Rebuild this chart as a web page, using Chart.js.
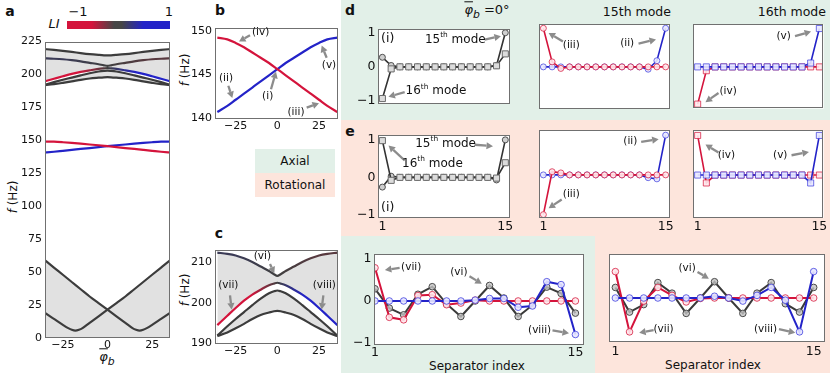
<!DOCTYPE html>
<html>
<head>
<meta charset="utf-8">
<script src="https://cdn.jsdelivr.net/npm/chart.js@4"></script>
<style>
body { margin: 0; width: 830px; height: 373px; position: relative; overflow: hidden; background: #fff; font-family: "DejaVu Sans", sans-serif; }
.bg { position: absolute; }
.lbl { position: absolute; white-space: nowrap; color: #111; line-height: 1; transform: translate(-50%, -50%); }
.lbl.r { transform: translate(-100%, -50%); }
.lbl.rot { transform: translate(-50%, -50%) rotate(-90deg); }
.b { font-weight: bold; font-size: 14px; }
.box { position: absolute; font-size: 12px; display: flex; align-items: center; justify-content: center; color: #111; }
canvas { position: absolute; }
</style>
</head>
<body>
<div class="bg" style="left:341px;top:0;width:489px;height:120px;background:#e2f0e8"></div>
<div class="bg" style="left:341px;top:120px;width:489px;height:116px;background:#fde5dc"></div>
<div class="bg" style="left:341px;top:236px;width:254px;height:137px;background:#e2f0e8"></div>
<div class="bg" style="left:595px;top:236px;width:235px;height:137px;background:#fde5dc"></div>
<div class="box" style="left:255px;top:149px;width:80px;height:24px;background:#e2f0e8">Axial</div>
<div class="box" style="left:255px;top:173px;width:80px;height:24px;background:#fde5dc">Rotational</div>
<div class="bg" style="left:67px;top:21px;width:103px;height:8px;background:linear-gradient(to right,#d4143c 0%,#d4143c 24%,#464646 46%,#464646 53%,#2323c8 74%,#2323c8 100%)"></div>

<div class="lbl b" style="left:10px;top:11px">a</div>
<div class="lbl b" style="left:220px;top:10px">b</div>
<div class="lbl b" style="left:219px;top:233px">c</div>
<div class="lbl b" style="left:350px;top:10px">d</div>
<div class="lbl b" style="left:350px;top:131px">e</div>
<div class="lbl b" style="left:575px;top:261px">f</div>
<div class="lbl b" style="left:626px;top:262px">g</div>
<div class="lbl" style="left:54px;top:23px;font-size:13px;font-style:italic">LI</div>
<div class="lbl" style="left:78px;top:11px;font-size:13px">&minus;1</div>
<div class="lbl" style="left:169px;top:11px;font-size:13px">1</div>
<div class="lbl rot" style="left:13px;top:197px;font-size:12px"><i>f</i> (Hz)</div>
<div class="lbl rot" style="left:185px;top:70px;font-size:12px"><i>f</i> (Hz)</div>
<div class="lbl rot" style="left:185px;top:290px;font-size:12px"><i>f</i> (Hz)</div>
<div class="lbl" style="left:107px;top:359px;font-size:13px"><i style="text-decoration:overline">φ</i><sub><i>b</i></sub></div>
<div class="lbl" style="left:487px;top:12px;font-size:13px"><i style="text-decoration:overline">φ</i><sub><i>b</i></sub> =0°</div>
<div class="lbl r" style="left:671px;top:12px;font-size:12.5px">15th mode</div>
<div class="lbl r" style="left:826px;top:12px;font-size:12.5px">16th mode</div>
<div class="lbl" style="left:477px;top:366px;font-size:12px">Separator index</div>
<div class="lbl" style="left:713px;top:365px;font-size:12px">Separator index</div>

<script>
// ---- data: panel a / c (upper band), phi_b in degrees, f in Hz
var phiC = [-36, -30, -25, -20, -15, -10, -5, -2, 0, 2, 5, 10, 15, 20, 25, 30, 36];
var band1 = [219.4, 218.7, 218.0, 217.2, 216.3, 215.5, 214.9, 214.6, 214.5, 214.6, 214.9, 215.5, 216.3, 217.2, 218.0, 218.7, 219.4];
var band2 = [212.3, 212.0, 211.6, 210.9, 210.0, 208.9, 207.8, 207.0, 206.6, 207.0, 207.8, 208.9, 210.0, 210.9, 211.6, 212.0, 212.3];
var band3 = [194.5, 196.8, 198.7, 200.5, 202.0, 203.2, 204.3, 204.7, 204.9, 204.7, 204.3, 203.2, 202.0, 200.5, 198.7, 196.8, 194.5];
var band4 = [191.9, 194.2, 196.0, 197.7, 199.4, 201.0, 202.3, 202.8, 203.0, 202.8, 202.3, 201.0, 199.4, 197.7, 196.0, 194.2, 191.9];
var band5 = [191.8, 192.7, 193.7, 194.8, 196.0, 197.0, 197.6, 197.9, 198.0, 197.9, 197.6, 197.0, 196.0, 194.8, 193.7, 192.7, 191.8];

// panel a / b: the two modes near 145 Hz
var phiB = [-36, -30, -25, -20, -15, -10, -5, 0, 5, 10, 15, 20, 25, 30, 36];
var modeRed = [149.2, 149.0, 148.6, 148.1, 147.5, 146.9, 146.3, 145.6, 144.9, 144.2, 143.5, 142.8, 142.1, 141.4, 140.7];
var modeBlue = [140.7, 141.4, 142.1, 142.8, 143.5, 144.2, 144.9, 145.6, 146.3, 146.9, 147.5, 148.1, 148.6, 149.0, 149.2];

// panel a: low band
var phiLowL = [-35, -30, -25, -22, -20, -18, -16, -14, -10, -5, 0, 5, 10, 15, 20, 25, 30, 35];
var lowL = [19, 14.5, 10, 7.5, 6.2, 5.6, 6.2, 7.5, 11.5, 16.5, 21.5, 26.5, 31.5, 37, 42.5, 48, 53.5, 59];
var phiLowR = [-35, -30, -25, -20, -15, -10, -5, 0, 5, 10, 14, 16, 18, 20, 22, 25, 30, 35];
var lowR = [59, 53.5, 48, 42.5, 37, 31.5, 26.5, 21.5, 16.5, 11.5, 7.5, 6.2, 5.6, 6.2, 7.5, 10, 14.5, 19];

// panels d-g: separator index and mode shapes
var sep = [1, 2, 3, 4, 5, 6, 7, 8, 9, 10, 11, 12, 13, 14, 15];
var d1Circ = [0.28, 0.04, 0, 0, 0, 0, 0, 0, 0, 0, 0, 0, 0, 0.04, 1.0];
var d1Sq = [-0.93, -0.06, 0, 0, 0, 0, 0, 0, 0, 0, 0, 0, 0, 0.03, 0.38];
var d2Red = [1.0, 0.13, -0.04, 0, 0, 0, 0, 0, 0, 0, 0, 0, 0, 0, 0];
var d2Blue = [0, 0, 0, 0, 0, 0, 0, 0, 0, 0, 0, 0, -0.06, 0.16, 1.0];
var d3Red = [-0.97, -0.1, 0, 0, 0, 0, 0, 0, 0, 0, 0, 0, 0, 0, 0];
var d3Blue = [0, 0, 0, 0, 0, 0, 0, 0, 0, 0, 0, 0, 0, 0.1, 1.0];
var e1Circ = [-0.26, 0.03, 0, 0, 0, 0, 0, 0, 0, 0, 0, 0, 0, -0.07, 1.0];
var e1Sq = [0.98, -0.08, 0, 0, 0, 0, 0, 0, 0, 0, 0, 0, 0, -0.02, 0.39];
var e2Red = [-1.0, 0.08, 0.05, 0, 0, 0, 0, 0, 0, 0, 0, 0, 0, 0, 0];
var e2Blue = [0, 0, 0, 0, 0, 0, 0, 0, 0, 0, 0, 0, -0.07, -0.1, 1.0];
var e3Red = [1.0, -0.2, 0, 0, 0, 0, 0, 0, 0, 0, 0, 0, 0, 0, 0];
var e3Blue = [0, 0, 0, 0, 0, 0, 0, 0, 0, 0, 0, 0, 0, -0.2, 1.0];
var fRed = [0.79, -0.39, -0.45, 0.13, 0.15, -0.09, -0.05, 0.02, 0, 0, 0, 0, 0, 0, 0];
var fGray = [0.29, -0.17, -0.33, 0.16, 0.34, -0.07, -0.37, 0, 0.37, 0.07, -0.37, -0.1, 0.33, 0.18, -0.29];
var fBlue = [0, 0, 0, 0, 0, 0, 0, 0.02, 0.06, 0.06, -0.15, -0.12, 0.46, 0.39, -0.8];
var gRed = [0.6, -0.77, -0.07, 0.24, 0.06, -0.09, -0.01, 0, 0, 0, 0, 0, 0, 0, 0];
var gGray = [0.24, -0.32, -0.15, 0.35, 0.11, -0.35, 0, 0.37, 0, -0.35, 0.11, 0.35, -0.13, -0.32, 0.24];
var gBlue = [0, 0, 0, 0, 0, 0, 0, 0.04, 0, -0.07, 0.06, 0.24, -0.05, -0.77, 0.6];

// tick labels
var phiTicks = [-25, 0, 25];
var fTicksA = [0, 25, 50, 75, 100, 125, 150, 175, 200, 225];
var fTicksB = [140, 145, 150];
var fTicksC = [190, 200, 210];
var uTicks = [-1, 0, 1];
var sepTicks = [1, 15];

var RED = '#d4143c', BLUE = '#2323c8', DARK = '#3c3c3c', FILL = '#e1e1e1', WHITE = '#ffffff';
var REDc = [212, 20, 60], BLUEc = [35, 35, 200], GREYc = [64, 64, 64];

function mix(a, b, t) {
  return 'rgb(' + a.map(function (v, i) { return Math.round(v + (b[i] - v) * t); }).join(',') + ')';
}
function liColor(v) {
  v = Math.max(-1, Math.min(1, v));
  return v < 0 ? mix(GREYc, REDc, -v) : mix(GREYc, BLUEc, v);
}
// horizontal colour ramp along phi_b, following the LI colour bar
function liGrad(scale) {
  return function (c) {
    var ch = c.chart, a = ch.chartArea, sx = ch.scales.x;
    if (!a || !sx) return DARK;
    var g = ch.ctx.createLinearGradient(a.left, 0, a.right, 0);
    [-40, -24, -16, -8, 0, 8, 16, 24, 40].forEach(function (x) {
      var f = (sx.getPixelForValue(x) - a.left) / (a.right - a.left);
      if (f >= 0 && f <= 1) g.addColorStop(f, liColor(x / scale));
    });
    return g;
  };
}
function xy(xs, ys) { return xs.map(function (x, i) { return { x: x, y: ys[i] }; }); }
function minus(v) { return v < 0 ? '\u2212' + Math.abs(v) : '' + v; }

var notes = {};

function arrow(ctx, x0, y0, x1, y1) {
  var ang = Math.atan2(y1 - y0, x1 - x0), hl = 6.5, hw = 3.6;
  var bx = x1 - hl * Math.cos(ang), by = y1 - hl * Math.sin(ang);
  ctx.strokeStyle = '#8c8c8c'; ctx.fillStyle = '#8c8c8c'; ctx.lineWidth = 2.3;
  ctx.beginPath(); ctx.moveTo(x0, y0); ctx.lineTo(bx, by); ctx.stroke();
  ctx.beginPath(); ctx.moveTo(x1, y1);
  ctx.lineTo(bx - hw * Math.sin(ang), by + hw * Math.cos(ang));
  ctx.lineTo(bx + hw * Math.sin(ang), by - hw * Math.cos(ang));
  ctx.closePath(); ctx.fill();
}

function drawNote(ctx, ch, n) {
  var X = function (v) { return ch.scales.x.getPixelForValue(v); };
  var Y = function (v) { return ch.scales.y.getPixelForValue(v); };
  if (n.arrow) arrow(ctx, X(n.arrow[0]), Y(n.arrow[1]), X(n.arrow[2]), Y(n.arrow[3]));
  var s = n.size || 10.5, px = X(n.x), py = Y(n.y);
  ctx.fillStyle = '#111'; ctx.textBaseline = 'middle';
  if (Array.isArray(n.t)) {
    var ss = s * 0.62;
    ctx.font = s + 'px "DejaVu Sans"';
    var w0 = ctx.measureText(n.t[0]).width, w2 = ctx.measureText(n.t[2]).width;
    ctx.font = ss + 'px "DejaVu Sans"';
    var w1 = ctx.measureText(n.t[1]).width;
    var x = px - (w0 + w1 + w2) / 2;
    ctx.textAlign = 'left';
    ctx.font = s + 'px "DejaVu Sans"'; ctx.fillText(n.t[0], x, py); x += w0;
    ctx.font = ss + 'px "DejaVu Sans"'; ctx.fillText(n.t[1], x, py - s * 0.35); x += w1;
    ctx.font = s + 'px "DejaVu Sans"'; ctx.fillText(n.t[2], x, py);
  } else {
    ctx.textAlign = 'center';
    ctx.font = s + 'px "DejaVu Sans"';
    ctx.fillText(n.t, px, py);
  }
}

Chart.register({
  id: 'frame',
  beforeDraw: function (ch) {
    var a = ch.chartArea, ctx = ch.ctx;
    ctx.save(); ctx.fillStyle = '#fff';
    ctx.fillRect(a.left, a.top, a.right - a.left, a.bottom - a.top);
    ctx.restore();
  },
  afterDraw: function (ch) {
    var a = ch.chartArea, ctx = ch.ctx;
    ctx.save();
    ctx.strokeStyle = '#707070'; ctx.lineWidth = 1;
    ctx.strokeRect(Math.round(a.left) + 0.5, Math.round(a.top) + 0.5,
      Math.round(a.right - a.left) - 1, Math.round(a.bottom - a.top) - 1);
    (notes[ch.canvas.id] || []).forEach(function (n) { drawNote(ctx, ch, n); });
    ctx.restore();
  }
});

function place(id, box, m) {
  var c = document.createElement('canvas');
  c.id = id;
  var w = Math.round(box.r - box.l + m.l + m.r), h = Math.round(box.b - box.t + m.t + m.b);
  c.width = w; c.height = h;
  c.style.left = Math.round(box.l - m.l) + 'px';
  c.style.top = Math.round(box.t - m.t) + 'px';
  c.style.width = w + 'px'; c.style.height = h + 'px';
  document.body.appendChild(c);
  return c;
}

function axis(min, max, ticks, size, show, pad, font) {
  return {
    type: 'linear', min: min, max: max,
    grid: { display: false, drawTicks: false }, border: { display: false },
    afterBuildTicks: function (s) { s.ticks = ticks.map(function (v) { return { value: v }; }); },
    afterFit: function (s) { if (s.isHorizontal()) s.height = size; else s.width = size; },
    ticks: {
      display: show, padding: pad, color: '#111', maxRotation: 0, autoSkip: false,
      font: { family: 'DejaVu Sans', size: font },
      callback: function (v) { return minus(v); }
    }
  };
}

function chart(id, box, m, datasets, xs, ys) {
  var c = place(id, box, m);
  return new Chart(c, {
    type: 'line',
    data: { datasets: datasets },
    options: {
      responsive: false, animation: false, devicePixelRatio: 1,
      layout: { padding: { top: m.t, right: m.r, left: 0, bottom: 0 } },
      plugins: { legend: { display: false }, tooltip: { enabled: false }, filler: { drawTime: 'beforeDatasetsDraw' } },
      scales: { x: xs, y: ys },
      elements: { point: { radius: 0 } }
    }
  });
}

// fills are painted from the last dataset to the first, so nested bands
// are built by stacking gray and white fills down to the axis
function curve(xs, ys, color, fill, fillColor) {
  return { data: xy(xs, ys), borderColor: color, borderWidth: 2.2, pointRadius: 0,
    cubicInterpolationMode: 'monotone', fill: fill || false, backgroundColor: fillColor || FILL };
}

// ---- panel a
chart('pa', { l: 45, t: 36, r: 170, b: 338 }, { l: 45, t: 4, r: 3, b: 34 }, [
  curve(phiLowL, lowL, DARK, 'origin'),
  curve(phiLowR, lowR, DARK, 'origin'),
  curve(phiC, band5, DARK, 'start', WHITE),
  curve(phiC, band4, DARK, 'start', FILL),
  curve(phiC, band3, liGrad(16), 'start', WHITE),
  curve(phiC, band2, liGrad(-150), 'start', FILL),
  curve(phiC, band1, DARK, 'start', FILL),
  curve(phiB, modeRed, RED),
  curve(phiB, modeBlue, BLUE)
], axis(-35, 35, phiTicks, 34, true, 1, 11), axis(0, 225, fTicksA, 45, true, 3, 11));

// ---- panel b
notes.pb = [
  { t: '(iv)', x: -10, y: 149.8, arrow: [-16.4, 149.47, -23, 148.75] },
  { t: '(v)', x: 31, y: 146.0, arrow: [29.6, 146.9, 26.6, 148.3] },
  { t: '(ii)', x: -30.8, y: 144.6, arrow: [-29.4, 143.7, -27, 142.3] },
  { t: '(i)', x: -5.8, y: 142.5, arrow: [-3.8, 143.3, -0.8, 145.3] },
  { t: '(iii)', x: 11.2, y: 140.7, arrow: [17.6, 141.2, 25, 141.7] }
];
chart('pb', { l: 215, t: 21, r: 338, b: 119.3 }, { l: 27, t: 3, r: 3, b: 20 }, [
  curve(phiB, modeRed, RED),
  curve(phiB, modeBlue, BLUE)
], axis(-37.4, 36.4, phiTicks, 20, true, 1, 11), axis(139.9, 150.35, fTicksB, 27, true, 3, 11));

// ---- panel c
notes.pc = [
  { t: '(vi)', x: -9, y: 211.4, arrow: [-4.4, 209.5, -1.8, 207.2] },
  { t: '(vii)', x: -29.4, y: 204.3, arrow: [-28.4, 201.8, -27.4, 198.3] },
  { t: '(viii)', x: 28.2, y: 204.3, arrow: [27.6, 201.8, 26.6, 198.3] }
];
chart('pc', { l: 215, t: 242.7, r: 338, b: 343.3 }, { l: 27, t: 3, r: 3, b: 22 }, [
  curve(phiC, band5, DARK, 'start', WHITE),
  curve(phiC, band4, DARK, 'start', FILL),
  curve(phiC, band3, liGrad(16), 'start', WHITE),
  curve(phiC, band2, liGrad(-150), 'start', FILL)
], axis(-37.4, 36.4, phiTicks, 22, true, 1, 11), axis(189.85, 213.05, fTicksC, 27, true, 3, 11));

// ---- panels d, e
function ms(ys, kind, col) {
  var sq = kind === 'sq';
  var face = { gray: sq ? '#dcdcdc' : '#cfcfcf', red: 'rgba(255,232,236,0.9)', blue: 'rgba(232,232,255,0.9)' }[col];
  var edge = { gray: sq ? '#6a6a6a' : '#505050', red: 'rgba(214,30,65,0.75)', blue: 'rgba(55,55,220,0.7)' }[col];
  var line = { gray: '#333333', red: RED, blue: BLUE }[col];
  return { data: xy(sep, ys), borderColor: line, borderWidth: 1.6, tension: 0,
    pointStyle: sq ? 'rect' : 'circle', pointRadius: sq ? 4.3 : 3,
    pointBackgroundColor: face, pointBorderColor: edge, pointBorderWidth: 1 };
}
var X0 = [0.5, 15.5];
notes.d1 = [
  { t: '(i)', x: 1.6, y: 0.82, size: 12.5 },
  { t: ['15', 'th', ' mode'], x: 9.3, y: 0.8, size: 12, arrow: [12.65, 0.8, 14.5, 0.9] },
  { t: ['16', 'th', ' mode'], x: 7.1, y: -0.71, size: 12, arrow: [3.54, -0.74, 1.69, -0.88] }
];
notes.d2 = [
  { t: '(iii)', x: 4.2, y: 0.56, arrow: [3.24, 0.66, 1.6, 0.88] },
  { t: '(ii)', x: 10.6, y: 0.6, arrow: [11.9, 0.6, 13.9, 0.71] }
];
notes.d3 = [
  { t: '(v)', x: 10.9, y: 0.8, arrow: [12.2, 0.8, 14.05, 0.92] },
  { t: '(iv)', x: 4.5, y: -0.63, arrow: [3.4, -0.68, 1.9, -0.92] }
];
notes.e1 = [
  { t: '(i)', x: 1.6, y: -0.8, size: 12.5 },
  { t: ['15', 'th', ' mode'], x: 8.2, y: 0.9, size: 12, arrow: [11.5, 0.87, 13.6, 0.83] },
  { t: ['16', 'th', ' mode'], x: 6.7, y: 0.37, size: 12, arrow: [3.54, 0.45, 1.7, 0.85] }
];
notes.e2 = [
  { t: '(iii)', x: 4.2, y: -0.5, arrow: [3.1, -0.62, 1.6, -0.84] },
  { t: '(ii)', x: 10.96, y: 0.85, arrow: [12.2, 0.83, 14.2, 0.9] }
];
notes.e3 = [
  { t: '(iv)', x: 4.3, y: 0.49, arrow: [3.4, 0.57, 1.9, 0.77] },
  { t: '(v)', x: 10.5, y: 0.5, arrow: [11.8, 0.5, 13.8, 0.58] }
];

var cols = [{ l: 377.7, r: 512.3 }, { l: 536, r: 673.3 }, { l: 690, r: 826.7 }];
var rowD = { t: 21, b: 112.3, y: [-1.09, 1.11] }, rowE = { t: 127.3, b: 218.3, y: [-1.085, 1.13] };
var sets = {
  d1: [ms(d1Sq, 'sq', 'gray'), ms(d1Circ, 'c', 'gray')],
  d2: [ms(d2Red, 'c', 'red'), ms(d2Blue, 'c', 'blue')],
  d3: [ms(d3Blue, 'sq', 'blue'), ms(d3Red, 'sq', 'red')],
  e1: [ms(e1Sq, 'sq', 'gray'), ms(e1Circ, 'c', 'gray')],
  e2: [ms(e2Red, 'c', 'red'), ms(e2Blue, 'c', 'blue')],
  e3: [ms(e3Blue, 'sq', 'blue'), ms(e3Red, 'sq', 'red')]
};
[['d', rowD], ['e', rowE]].forEach(function (r) {
  cols.forEach(function (c, i) {
    var id = r[0] + (i + 1), isE = r[0] === 'e';
    chart(id, { l: c.l, t: r[1].t, r: c.r, b: r[1].b },
      { l: i === 0 ? 22 : 2, t: 2, r: 2, b: isE ? 16 : 2 }, sets[id],
      axis(X0[0], X0[1], sepTicks, isE ? 16 : 2, isE, 1, 12.5),
      axis(r[1].y[0], r[1].y[1], uTicks, i === 0 ? 22 : 2, i === 0, 2.5, 12.5));
  });
});

// ---- panels f, g
function ls(ys, col) {
  var face = { gray: 'rgba(195,195,195,0.8)', red: 'rgba(255,232,236,0.9)', blue: 'rgba(232,232,255,0.9)' }[col];
  var edge = { gray: '#4a4a4a', red: 'rgba(214,30,65,0.8)', blue: 'rgba(55,55,220,0.75)' }[col];
  var line = { gray: '#3a3a3a', red: RED, blue: BLUE }[col];
  return { data: xy(sep, ys), borderColor: line, borderWidth: 2, tension: 0, pointStyle: 'circle',
    pointRadius: 3.3, pointBackgroundColor: face, pointBorderColor: edge, pointBorderWidth: 1 };
}
notes.pf = [
  { t: '(vii)', x: 3.53, y: 0.81, arrow: [2.72, 0.79, 1.69, 0.74] },
  { t: '(vi)', x: 6.86, y: 0.68, arrow: [7.6, 0.59, 8.46, 0.41] },
  { t: '(viii)', x: 12.5, y: -0.7, arrow: [13.4, -0.7, 14.55, -0.77] }
];
notes.pg = [
  { t: '(vi)', x: 6.07, y: 0.68, arrow: [6.8, 0.59, 7.6, 0.44] },
  { t: '(vii)', x: 4.4, y: -0.71, arrow: [3.7, -0.73, 2.68, -0.79] },
  { t: '(viii)', x: 11.6, y: -0.71, arrow: [12.55, -0.71, 13.7, -0.79] }
];
chart('pf', { l: 374, t: 245.7, r: 587, b: 345 }, { l: 22, t: 2, r: 2, b: 14 },
  [ls(fBlue, 'blue'), ls(fRed, 'red'), ls(fGray, 'gray')],
  axis(0.93, 15.6, sepTicks, 14, true, 0, 12.5), axis(-1.05, 1.12, uTicks, 22, true, 2.5, 12.5));
chart('pg', { l: 605.7, t: 251, r: 828, b: 341.7 }, { l: 2, t: 2, r: 1.5, b: 16 },
  [ls(gBlue, 'blue'), ls(gRed, 'red'), ls(gGray, 'gray')],
  axis(0.55, 15.8, sepTicks, 16, true, 2, 12.5), axis(-1.0, 1.0, uTicks, 2, false, 2, 12.5));
</script>
</body>
</html>
